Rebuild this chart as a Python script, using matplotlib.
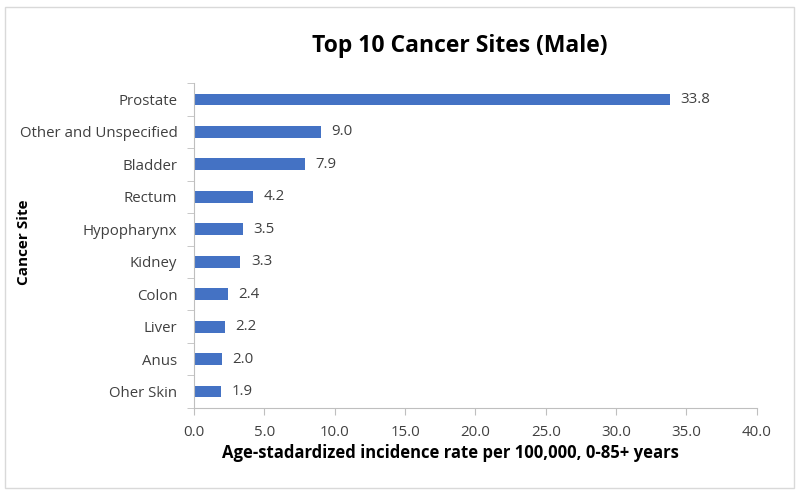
import matplotlib
matplotlib.use("Agg")
import matplotlib.pyplot as plt
from matplotlib.patches import Rectangle

sites = ["Prostate", "Other and Unspecified", "Bladder", "Rectum", "Hypopharynx",
         "Kidney", "Colon", "Liver", "Anus", "Oher Skin"]
rates = [33.8, 9.0, 7.9, 4.2, 3.5, 3.3, 2.4, 2.2, 2.0, 1.9]
xticks = [0, 5, 10, 15, 20, 25, 30, 35, 40]

plt.rcParams['font.family'] = ['Open Sans', 'DejaVu Sans']

fig = plt.figure(figsize=(8, 4.95), dpi=100)
ax = fig.add_axes([0.2425, 0.176, 0.7035, 0.656])

# figure border
fig.patches.append(Rectangle((0.006, 0.014), 0.986, 0.972, transform=fig.transFigure,
                             fill=False, edgecolor='#d9d9d9', linewidth=1))

pos = list(range(len(sites)))
ax.barh(pos, rates, height=0.36, color='#4472C4')
for p, v in zip(pos, rates):
    ax.text(v + 0.75, p, "%.1f" % v, va='center', ha='left', fontsize=10.8, color='#404040')

ax.set_ylim(len(sites) - 0.5, -0.5)
ax.set_xlim(0, 40)
ax.set_xticks(xticks)
ax.set_xticklabels(["%.1f" % t for t in xticks], fontsize=10.8, color='#404040')
ax.set_yticks(pos)
ax.set_yticklabels(sites, fontsize=10.8, color='#404040')
ax.tick_params(axis='y', length=0, pad=12)
ax.set_yticks([p - 0.5 for p in pos] + [len(sites) - 0.5], minor=True)
ax.tick_params(axis='y', which='minor', length=5, color='#bfbfbf')
ax.tick_params(axis='x', length=5, color='#bfbfbf', pad=7)

for s in ['top', 'right']:
    ax.spines[s].set_visible(False)
for s in ['left', 'bottom']:
    ax.spines[s].set_color('#bfbfbf')

ax.set_xlabel("Age-stadardized incidence rate per 100,000, 0-85+ years",
              fontsize=12, fontweight='bold')
ax.xaxis.set_label_coords(0.455, -0.111)
ax.set_ylabel("Cancer Site", fontsize=11, fontweight='bold')
ax.yaxis.set_label_coords(-0.29, 0.51)
fig.text(0.575, 0.908, "Top 10 Cancer Sites (Male)", fontsize=16.5, fontweight='bold',
         ha='center', va='center')

fig.savefig("out.png", dpi=100)
